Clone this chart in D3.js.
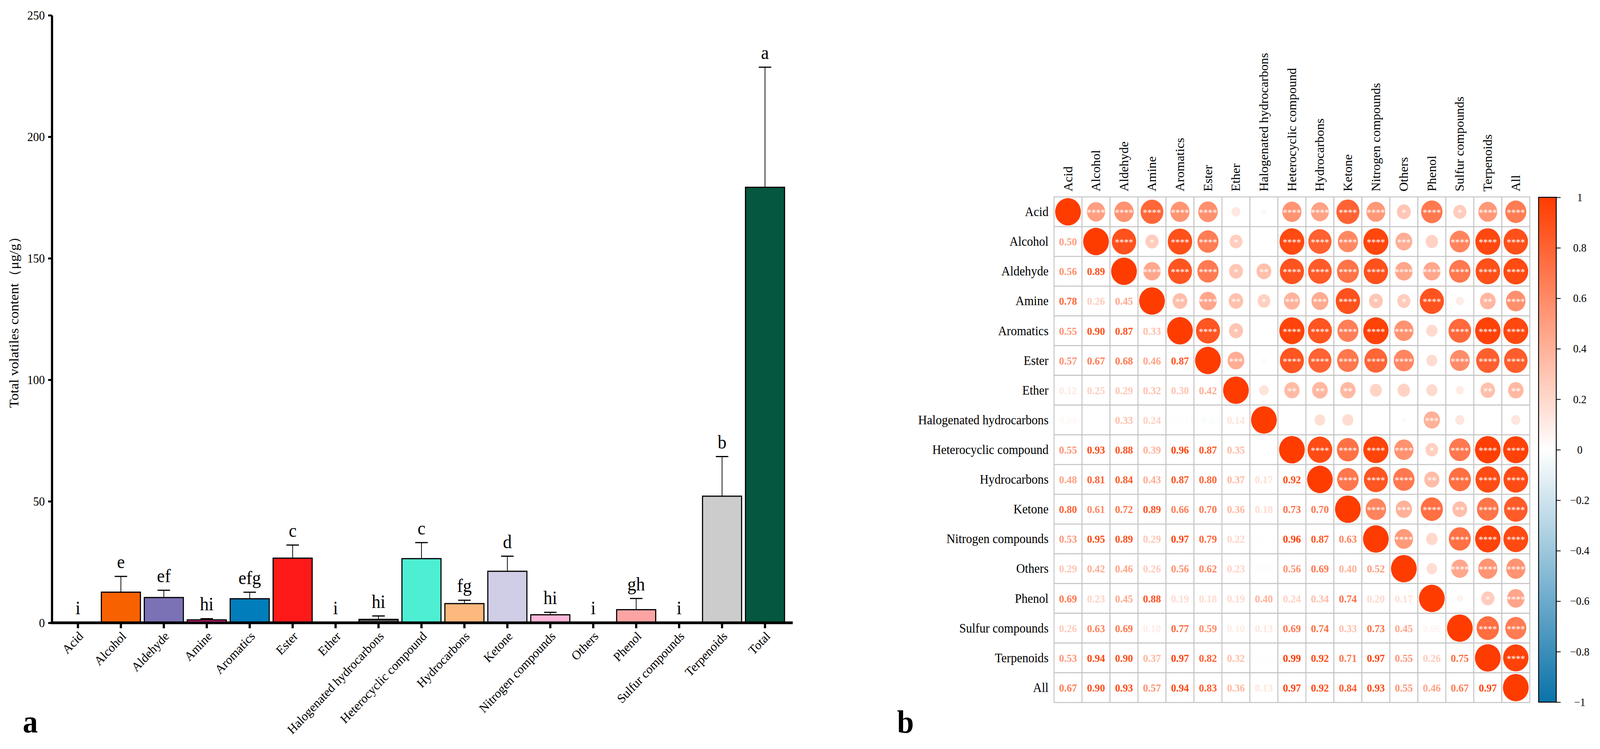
<!DOCTYPE html>
<html>
<head>
<meta charset="utf-8">
<script src="https://cdn.jsdelivr.net/npm/d3@7"></script>
<style>
  html, body { margin: 0; padding: 0; background: #fff; overflow: hidden; }
  svg { display: block; width: 100vw; height: 100vh; font-family: "Liberation Serif", "Times New Roman", serif; }
</style>
</head>
<body>
<div id="chart"></div>
<script>
  // ---- panel a : bar chart data ----
  var categories = ["Acid", "Alcohol", "Aldehyde", "Amine", "Aromatics", "Ester", "Ether",
    "Halogenated hydrocarbons", "Heterocyclic compound", "Hydrocarbons", "Ketone",
    "Nitrogen compounds", "Others", "Phenol", "Sulfur compounds", "Terpenoids", "Total"];
  var means   = [0.1, 12.6, 10.4, 1.2, 9.9, 26.6, 0.1, 1.4, 26.4, 7.9, 21.2, 3.3, 0.1, 5.4, 0.1, 52.1, 179.2];
  var sds     = [0, 6.5, 3.0, 0.5, 2.7, 5.4, 0, 1.4, 6.6, 1.4, 6.2, 1.0, 0, 4.6, 0, 16.3, 49.4];
  var letters = ["i", "e", "ef", "hi", "efg", "c", "i", "hi", "c", "fg", "d", "hi", "i", "gh", "i", "b", "a"];
  var barColors = ["#333333", "#F86100", "#7A72B5", "#E7298A", "#007DBA", "#FF1A1A", "#999999",
    "#555555", "#4EEED3", "#FDB87E", "#D0CDE6", "#FDB7D9", "#999999", "#FCA4A4", "#999999",
    "#CCCCCC", "#05573F"];
  var yTicks = [0, 50, 100, 150, 200, 250];

  // ---- panel b : correlation matrix data ----
  var corrVars = ["Acid", "Alcohol", "Aldehyde", "Amine", "Aromatics", "Ester", "Ether",
    "Halogenated hydrocarbons", "Heterocyclic compound", "Hydrocarbons", "Ketone",
    "Nitrogen compounds", "Others", "Phenol", "Sulfur compounds", "Terpenoids", "All"];
  // lower triangle, row i+1 against columns 0..i
  var corrLower = [
    [0.50],
    [0.56, 0.89],
    [0.78, 0.26, 0.45],
    [0.55, 0.90, 0.87, 0.33],
    [0.57, 0.67, 0.68, 0.46, 0.87],
    [0.12, 0.25, 0.29, 0.32, 0.30, 0.42],
    [0.04, 0.00, 0.33, 0.24, 0.01, -0.03, 0.14],
    [0.55, 0.93, 0.88, 0.39, 0.96, 0.87, 0.35, 0.00],
    [0.48, 0.81, 0.84, 0.43, 0.87, 0.80, 0.37, 0.17, 0.92],
    [0.80, 0.61, 0.72, 0.89, 0.66, 0.70, 0.36, 0.18, 0.73, 0.70],
    [0.53, 0.95, 0.89, 0.29, 0.97, 0.79, 0.22, -0.01, 0.96, 0.87, 0.63],
    [0.29, 0.42, 0.46, 0.26, 0.56, 0.62, 0.23, 0.03, 0.56, 0.69, 0.40, 0.52],
    [0.69, 0.23, 0.45, 0.88, 0.19, 0.18, 0.19, 0.40, 0.24, 0.34, 0.74, 0.20, 0.17],
    [0.26, 0.63, 0.69, 0.10, 0.77, 0.59, 0.10, 0.13, 0.69, 0.74, 0.33, 0.73, 0.45, 0.06],
    [0.53, 0.94, 0.90, 0.37, 0.97, 0.82, 0.32, 0.01, 0.99, 0.92, 0.71, 0.97, 0.55, 0.26, 0.75],
    [0.67, 0.90, 0.93, 0.57, 0.94, 0.83, 0.36, 0.13, 0.97, 0.92, 0.84, 0.93, 0.55, 0.46, 0.67, 0.97]
  ];
  // significance marks, same layout as corrLower (shown in the upper triangle)
  var corrStars = [
    ["****"],
    ["****", "****"],
    ["****", "*", "****"],
    ["****", "****", "****", "**"],
    ["****", "****", "****", "****", "****"],
    ["", "*", "*", "**", "*", "***"],
    ["", "", "**", "*", "", "", ""],
    ["****", "****", "****", "***", "****", "****", "**", ""],
    ["****", "****", "****", "***", "****", "****", "**", "", "****"],
    ["****", "****", "****", "****", "****", "****", "**", "", "****", "****"],
    ["****", "****", "****", "*", "****", "****", "", "", "****", "****", "****"],
    ["*", "***", "****", "*", "****", "****", "", "", "****", "****", "***", "****"],
    ["****", "", "****", "****", "", "", "", "***", "*", "**", "****", "", ""],
    ["*", "****", "****", "", "****", "****", "", "", "****", "****", "**", "****", "****", ""],
    ["****", "****", "****", "**", "****", "****", "**", "", "****", "****", "****", "****", "****", "*", "****"],
    ["****", "****", "****", "****", "****", "****", "**", "", "****", "****", "****", "****", "****", "****", "****", "****"]
  ];
  var colorTicks = [1, 0.8, 0.6, 0.4, 0.2, 0, -0.2, -0.4, -0.6, -0.8, -1];

  //drawing space is 4352 x 1917, stretched onto whatever the window really is
  var svg = d3.select("#chart")
    .append("svg")
    .attr("viewBox", "0 0 4352 1917")
    .attr("preserveAspectRatio", "none");

  //==================== panel a ====================
  var x = d3.scaleBand().domain(categories).range([153.6, 2139.2]),
      y = d3.scaleLinear().domain([0, 250]).range([1594, 39]);
  var barW = x.bandwidth() * 0.91;
  var cx = function(d){ return x(d) + x.bandwidth() / 2; };

  var bars = categories.map(function(c, i){
    return {cat: c, mean: means[i], sd: sds[i], letter: letters[i], color: barColors[i]};
  });

  var gA = svg.append("g");

  //bars
  gA.selectAll(".bar")
    .data(bars)
    .enter().append("rect")
    .attr("class", "bar")
    .attr("x", function(d){ return cx(d.cat) - barW / 2; })
    .attr("y", function(d){ return y(d.mean); })
    .attr("width", barW)
    .attr("height", function(d){ return y(0) - y(d.mean); })
    .attr("fill", function(d){ return d.color; })
    .attr("stroke", "#000")
    .attr("stroke-width", 3);

  //error bars (upper whisker only)
  var errs = bars.filter(function(d){ return d.sd > 0; });
  gA.selectAll(".err")
    .data(errs)
    .enter().append("line")
    .attr("x1", function(d){ return cx(d.cat); })
    .attr("x2", function(d){ return cx(d.cat); })
    .attr("y1", function(d){ return y(d.mean); })
    .attr("y2", function(d){ return y(d.mean + d.sd); })
    .attr("stroke", "#000")
    .attr("stroke-width", 2);
  gA.selectAll(".cap")
    .data(errs)
    .enter().append("line")
    .attr("x1", function(d){ return cx(d.cat) - 17; })
    .attr("x2", function(d){ return cx(d.cat) + 17; })
    .attr("y1", function(d){ return y(d.mean + d.sd); })
    .attr("y2", function(d){ return y(d.mean + d.sd); })
    .attr("stroke", "#000")
    .attr("stroke-width", 3);

  //significance letters
  gA.selectAll(".letter")
    .data(bars)
    .enter().append("text")
    .attr("x", function(d){ return cx(d.cat); })
    .attr("y", function(d){ return y(d.mean + d.sd) - 21; })
    .attr("text-anchor", "middle")
    .attr("font-size", 48)
    .text(function(d){ return d.letter; });

  //y axis
  var yAxis = gA.append("g")
    .attr("transform", "translate(141,0)")
    .call(d3.axisLeft(y).tickValues(yTicks).tickSize(10).tickSizeOuter(0).tickPadding(9));
  yAxis.select(".domain").attr("stroke-width", 6);
  yAxis.selectAll(".tick line").attr("stroke-width", 5);
  yAxis.selectAll(".tick text")
    .attr("font-family", "Liberation Serif")
    .attr("font-size", 32)
    .attr("fill", "#000");

  //x axis
  var xAxis = gA.append("g")
    .attr("transform", "translate(0,1597)")
    .call(d3.axisBottom(x).tickSize(11).tickSizeOuter(0).tickFormat(""));
  xAxis.select(".domain").remove();
  xAxis.selectAll(".tick line").attr("stroke-width", 6);
  gA.append("line")
    .attr("x1", 138).attr("x2", x.range()[1] + 17)
    .attr("y1", y(0)).attr("y2", y(0))
    .attr("stroke", "#000")
    .attr("stroke-width", 7);

  gA.selectAll(".xlab")
    .data(categories)
    .enter().append("text")
    .attr("text-anchor", "end")
    .attr("font-size", 33)
    .attr("transform", function(d){ return "translate(" + (cx(d) + 8) + ",1622) rotate(-45)"; })
    .attr("dy", "0.35em")
    .text(function(d){ return d; });

  //y axis title
  gA.append("text")
    .attr("transform", "translate(50,816) rotate(-90)")
    .attr("text-anchor", "middle")
    .attr("font-size", 36)
    .text("Total volatiles content（μg/g）");

  gA.append("text")
    .attr("x", 62).attr("y", 1875)
    .attr("font-size", 82)
    .attr("font-weight", "bold")
    .text("a");

  //==================== panel b ====================
  var mx = d3.scaleBand().domain(corrVars).range([2867, 4161]),
      my = d3.scaleBand().domain(corrVars).range([504, 1798]);
  var cs = mx.bandwidth();
  var color = d3.scaleLinear().domain([-1, 0, 1]).range(["#0A72A8", "#FFFFFF", "#FF3C00"]);
  var rad = d3.scaleSqrt().domain([0, 1]).range([0, cs / 2 - 3]);
  var fmt = d3.format(".2f");

  var gB = svg.append("g");

  //build cell lists from the lower triangle
  var lowerCells = [], upperCells = [], diagCells = [];
  corrLower.forEach(function(row, k){
    var i = k + 1;
    row.forEach(function(v, j){
      lowerCells.push({row: corrVars[i], col: corrVars[j], v: v});
      upperCells.push({row: corrVars[j], col: corrVars[i], v: v, stars: corrStars[k][j]});
    });
  });
  corrVars.forEach(function(c){ diagCells.push({row: c, col: c, v: 1, stars: ""}); });

  //grid
  var grid = [];
  corrVars.forEach(function(r){ corrVars.forEach(function(c){ grid.push({row: r, col: c}); }); });
  gB.selectAll(".cell")
    .data(grid)
    .enter().append("rect")
    .attr("x", function(d){ return mx(d.col); })
    .attr("y", function(d){ return my(d.row); })
    .attr("width", cs)
    .attr("height", cs)
    .attr("fill", "#fff")
    .attr("stroke", "#C4C4C4")
    .attr("stroke-width", 2.5);

  //circles
  var circ = upperCells.concat(diagCells);
  gB.selectAll(".dot")
    .data(circ)
    .enter().append("circle")
    .attr("cx", function(d){ return mx(d.col) + cs / 2; })
    .attr("cy", function(d){ return my(d.row) + cs / 2; })
    .attr("r", function(d){ return rad(Math.abs(d.v)); })
    .attr("fill", function(d){ return color(d.v); });

  gB.selectAll(".star")
    .data(upperCells.filter(function(d){ return d.stars; }))
    .enter().append("text")
    .attr("x", function(d){ return mx(d.col) + cs / 2; })
    .attr("y", function(d){ return my(d.row) + cs / 2 + 11; })
    .attr("text-anchor", "middle")
    .attr("font-size", 25)
    .attr("fill", "#fff")
    .text(function(d){ return d.stars; });

  //coefficients
  gB.selectAll(".num")
    .data(lowerCells)
    .enter().append("text")
    .attr("x", function(d){ return mx(d.col) + cs / 2; })
    .attr("y", function(d){ return my(d.row) + cs / 2 + 10; })
    .attr("text-anchor", "middle")
    .attr("font-size", 28)
    .attr("font-weight", "bold")
    .attr("fill", function(d){ return color(d.v); })
    .text(function(d){ return fmt(d.v); });

  //row and column labels
  gB.selectAll(".rlab")
    .data(corrVars)
    .enter().append("text")
    .attr("x", mx.range()[0] - 15)
    .attr("y", function(d){ return my(d) + cs / 2 + 11; })
    .attr("text-anchor", "end")
    .attr("font-size", 33)
    .text(function(d){ return d; });
  gB.selectAll(".clab")
    .data(corrVars)
    .enter().append("text")
    .attr("transform", function(d){ return "translate(" + (mx(d) + cs / 2 + 11) + "," + (my.range()[0] - 14) + ") rotate(-90)"; })
    .attr("font-size", 33)
    .text(function(d){ return d; });

  //colour bar
  var cb = d3.scaleLinear().domain([-1, 1]).range([1797, 505]);
  var grad = svg.append("defs").append("linearGradient")
    .attr("id", "cbar")
    .attr("x1", 0).attr("y1", 1).attr("x2", 0).attr("y2", 0);
  d3.range(-1, 1.001, 0.1).forEach(function(v){
    grad.append("stop")
      .attr("offset", ((v + 1) / 2 * 100) + "%")
      .attr("stop-color", color(v));
  });
  gB.append("rect")
    .attr("x", 4185).attr("y", cb(1))
    .attr("width", 48).attr("height", cb(-1) - cb(1))
    .attr("fill", "url(#cbar)")
    .attr("stroke", "#000")
    .attr("stroke-width", 2.5);
  var cAxis = gB.append("g")
    .attr("transform", "translate(4233,0)")
    .call(d3.axisRight(cb).tickValues(colorTicks).tickSize(12).tickFormat(d3.format("")));
  cAxis.select(".domain").remove();
  cAxis.selectAll(".tick line").attr("stroke-width", 2);
  cAxis.selectAll(".tick text")
    .attr("x", 64)
    .attr("text-anchor", "middle")
    .attr("font-family", "Liberation Serif")
    .attr("font-size", 29)
    .attr("fill", "#000");

  gB.append("text")
    .attr("x", 2440).attr("y", 1875)
    .attr("font-size", 82)
    .attr("font-weight", "bold")
    .text("b");
</script>
</body>
</html>
